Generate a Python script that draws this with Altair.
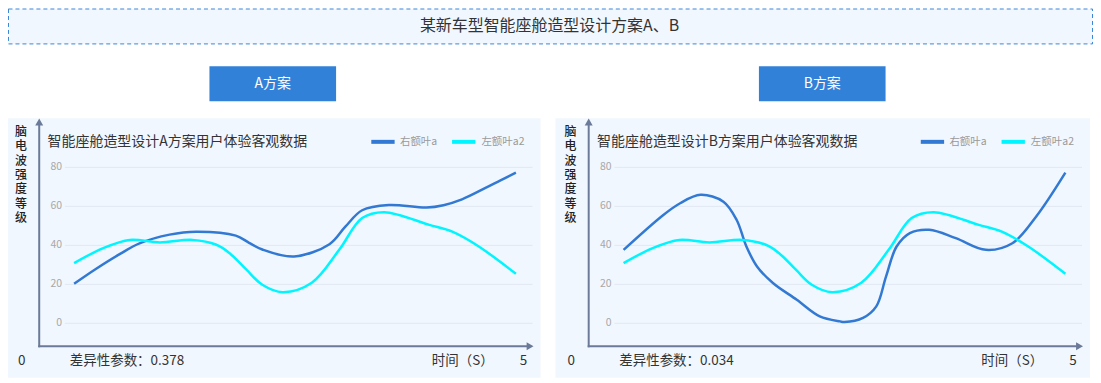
import altair as alt
import pandas as pd

# ---------------- data ----------------
header_title = "某新车型智能座舱造型设计方案A、B"
plan_labels = ["A方案", "B方案"]
chart_titles = ["智能座舱造型设计A方案用户体验客观数据", "智能座舱造型设计B方案用户体验客观数据"]
diff_labels = ["差异性参数：0.378", "差异性参数：0.034"]
series_names = ["右额叶a", "左额叶a2"]
y_axis_title = "脑电波强度等级"
x_axis_title = "时间（S）"
x_tick_labels = ["0", "5"]
y_ticks = [0, 20, 40, 60, 80]

# Plan A – 右额叶a
a_right_t = [0, 0.25, 0.52, 0.74, 1.08, 1.38, 1.83, 1.98, 2.13, 2.49, 2.89, 3.07, 3.26, 3.56,
             3.99, 4.18, 4.39, 4.65, 4.82, 5]
a_right_v = [20.3, 28.0, 35.6, 41.0, 45.5, 47, 45, 41.3, 37.9, 34.3, 40.6, 49.6, 58, 60.7,
             59.4, 60.6, 63.6, 69.3, 73.2, 77.3]
# Plan A – 左额叶a2
a_left_t = [0, 0.33, 0.63, 0.97, 1.34, 1.61, 1.76, 1.95, 2.13, 2.36, 2.69, 3.0, 3.26, 3.51, 4.02, 4.28, 4.58, 5]
a_left_v = [30.9, 38.6, 42.8, 41.5, 42.8, 40.3, 36, 27.5, 19.8, 16, 20.8, 37.7, 54, 57, 50.5, 47, 39.4, 25.4]
# Plan B – 右额叶a
b_right_t = [0, 0.45, 0.64, 0.87, 1.13, 1.28, 1.39, 1.51, 1.69, 1.96, 2.22, 2.45, 2.50, 2.71, 2.86,
             2.97, 3.09, 3.24, 3.46, 3.76, 4.10, 4.40, 4.67, 5]
b_right_v = [37.7, 55.6, 61.6, 65.9, 62.4, 53, 39.4, 29.2, 20.7, 12.1, 3.6, 1.0, 0.7, 2.8, 8.7,
             24, 39.4, 46.3, 48, 43.7, 37.7, 41.1, 54.8, 77.3]
# Plan B – 左额叶a2
b_left_t = [0, 0.33, 0.63, 0.97, 1.34, 1.61, 1.76, 1.95, 2.13, 2.36, 2.69, 3.0, 3.26, 3.51, 4.02, 4.28, 4.58, 5]
b_left_v = [30.9, 38.6, 42.8, 41.5, 42.8, 40.3, 36, 27.5, 19.8, 16, 20.8, 37.7, 54, 57, 50.5, 47, 39.4, 25.4]

# ---------------- style ----------------
FONT = "Noto Sans CJK SC"
series_colors = ["#3279d3", "#00f5ff"]
axis_color = "#6b7a99"
grid_color = "#e2e8f2"
panel_bg = "#f1f7fe"
button_color = "#3181d8"
text_dark = "#333333"

W, H = 1088, 371
y_scale = alt.Scale(domain=[0, 80], range=[315.7, 159.3], zero=False, nice=False)

one = pd.DataFrame({"k": [0]})


def build_panel(L, idx, right_t, right_v, left_t, left_v, x_range):
    layers = []
    # background
    layers.append(alt.Chart(one).mark_rect(color=panel_bg).encode(
        x=alt.value(max(L, 0)), x2=alt.value(L + 536), y=alt.value(110), y2=alt.value(370.3)))
    # plan button
    layers.append(alt.Chart(one).mark_rect(color=button_color).encode(
        x=alt.value(L + 204), x2=alt.value(L + 331), y=alt.value(58), y2=alt.value(93)))
    layers.append(alt.Chart(pd.DataFrame({"t": [plan_labels[idx]]})).mark_text(
        font=FONT, fontSize=14, color="white", align="center", baseline="middle").encode(
        text="t:N", x=alt.value(L + 267.5), y=alt.value(75.5)))
    # gridlines
    layers.append(alt.Chart(pd.DataFrame({"tick": y_ticks})).mark_rule(
        color=grid_color, strokeWidth=1).encode(
        y=alt.Y("tick:Q", scale=y_scale, axis=None),
        x=alt.value(L + 59), x2=alt.value(L + 528)))
    # tick labels
    layers.append(alt.Chart(pd.DataFrame({"tick": y_ticks})).mark_text(
        font=FONT, fontSize=10.5, color="#a8a8a8", align="right", baseline="middle").encode(
        y=alt.Y("tick:Q", scale=y_scale, axis=None),
        x=alt.value(L + 56.3), text="tick:Q"))
    # axis lines + arrows
    layers.append(alt.Chart(one).mark_rule(color=axis_color, strokeWidth=2).encode(
        x=alt.value(L + 33.3), y=alt.value(116), y2=alt.value(339.7)))
    layers.append(alt.Chart(one).mark_rule(color=axis_color, strokeWidth=2).encode(
        y=alt.value(338.7), x=alt.value(L + 32.3), x2=alt.value(L + 524)))
    layers.append(alt.Chart(one).mark_point(
        shape="triangle-up", filled=True, size=64, color=axis_color, opacity=1).encode(
        x=alt.value(L + 33.3), y=alt.value(113.8)))
    layers.append(alt.Chart(one).mark_point(
        shape="triangle-right", filled=True, size=64, color=axis_color, opacity=1).encode(
        x=alt.value(L + 525.5), y=alt.value(338.7)))
    # y axis title (stacked characters, first line at y)
    layers.append(alt.Chart(one).mark_text(
        text=list(y_axis_title), font=FONT, fontSize=12, lineHeight=14.4, color="#222222",
        fontWeight=500, align="center", baseline="middle").encode(
        x=alt.value(L + 15), y=alt.value(123.7)))
    # chart subtitle
    layers.append(alt.Chart(pd.DataFrame({"t": [chart_titles[idx]]})).mark_text(
        font=FONT, fontSize=14, color=text_dark, align="left", baseline="middle").encode(
        text="t:N", x=alt.value(L + 41.7), y=alt.value(134.3)))
    # custom legend
    sym_x = [(366.3, 389.7, 395), (447.3, 470.7, 476.7)]
    for s in range(2):
        layers.append(alt.Chart(one).mark_rule(color=series_colors[s], strokeWidth=4).encode(
            x=alt.value(L + sym_x[s][0]), x2=alt.value(L + sym_x[s][1]), y=alt.value(133.7)))
        layers.append(alt.Chart(pd.DataFrame({"t": [series_names[s]]})).mark_text(
            font=FONT, fontSize=10.5, color="#9a9a9a", align="left", baseline="middle").encode(
            text="t:N", x=alt.value(L + sym_x[s][2]), y=alt.value(133.7)))
    # bottom texts
    layers.append(alt.Chart(pd.DataFrame({"t": [x_tick_labels[0]]})).mark_text(
        font=FONT, fontSize=13.5, color=text_dark, align="center", baseline="middle").encode(
        text="t:N", x=alt.value(L + 15.7), y=alt.value(353.7)))
    layers.append(alt.Chart(pd.DataFrame({"t": [x_tick_labels[1]]})).mark_text(
        font=FONT, fontSize=13.5, color=text_dark, align="center", baseline="middle").encode(
        text="t:N", x=alt.value(L + 519), y=alt.value(353.7)))
    layers.append(alt.Chart(pd.DataFrame({"t": [diff_labels[idx]]})).mark_text(
        font=FONT, fontSize=13.5, color=text_dark, align="left", baseline="middle").encode(
        text="t:N", x=alt.value(L + 64), y=alt.value(353.7)))
    layers.append(alt.Chart(pd.DataFrame({"t": [x_axis_title]})).mark_text(
        font=FONT, fontSize=13.5, color=text_dark, align="left", baseline="middle").encode(
        text="t:N", x=alt.value(L + 427), y=alt.value(353.7)))
    # data lines
    df = pd.concat([
        pd.DataFrame({"t": right_t, "v": right_v, "s": series_names[0]}),
        pd.DataFrame({"t": left_t, "v": left_v, "s": series_names[1]}),
    ])
    layers.append(alt.Chart(df).mark_line(interpolate="catmull-rom", strokeWidth=2.5).encode(
        x=alt.X("t:Q", scale=alt.Scale(domain=[0, 5], range=x_range, zero=False, nice=False), axis=None),
        y=alt.Y("v:Q", scale=y_scale, axis=None),
        color=alt.Color("s:N", scale=alt.Scale(domain=series_names, range=series_colors), legend=None),
        detail="s:N"))
    return layers


layers = []
# header
layers.append(alt.Chart(one).mark_rect(
    fill=panel_bg, stroke="#3a86d8", strokeWidth=1, strokeDash=[4, 3]).encode(
    x=alt.value(0.5), x2=alt.value(W - 0.5), y=alt.value(0.5), y2=alt.value(35.5)))
layers.append(alt.Chart(pd.DataFrame({"t": [header_title]})).mark_text(
    font=FONT, fontSize=16, color=text_dark, align="center", baseline="middle").encode(
    text="t:N", x=alt.value(543), y=alt.value(18)))

layers += build_panel(-2, 0, a_right_t, a_right_v, a_left_t, a_left_v, [66.3, 509.3])
layers += build_panel(549, 1, b_right_t, b_right_v, b_left_t, b_left_v, [617.3, 1060.3])

chart = alt.layer(*layers).resolve_scale(x="independent").properties(
    width=W, height=H, padding=0, autosize=alt.AutoSizeParams(type="none")
).configure_view(stroke=None)

chart.save("out.html", embed_options={"renderer": "svg", "actions": False})
